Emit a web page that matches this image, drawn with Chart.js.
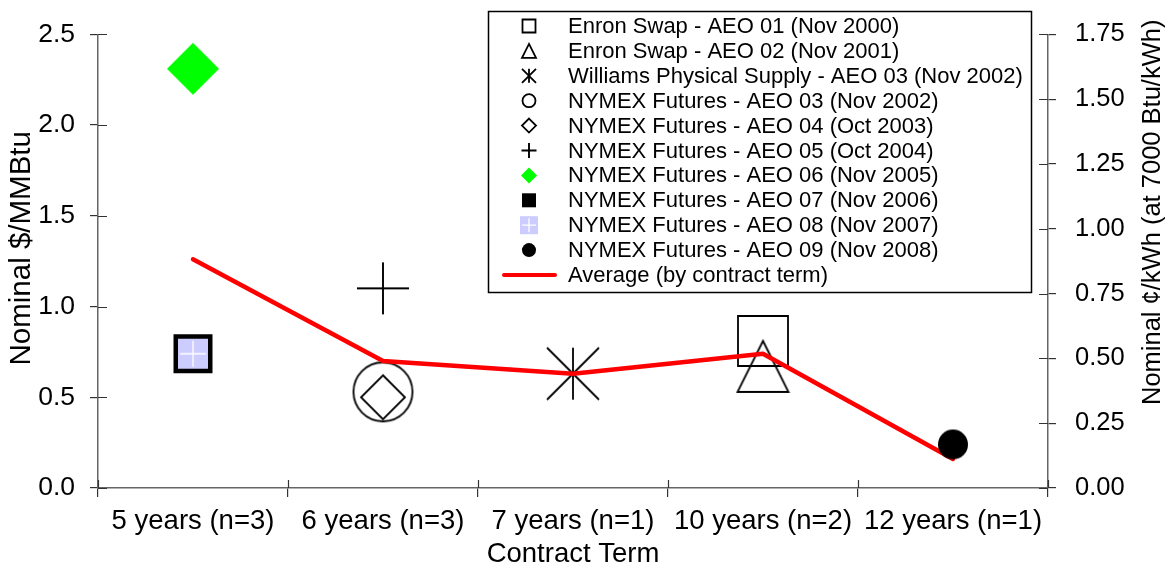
<!DOCTYPE html>
<html>
<head>
<meta charset="utf-8">
<script src="https://cdn.jsdelivr.net/npm/chart.js@4.4.1/dist/chart.umd.min.js"></script>
<style>
  html, body { margin: 0; padding: 0; background: #fff; }
  #wrap { width: 1172px; height: 567px; position: relative; }
</style>
</head>
<body>
<div id="wrap"><canvas id="chart"></canvas></div>
<script>
'use strict';

// ─── Data ────────────────────────────────────────────────────────────────────
const categories = ['5 years (n=3)', '6 years (n=3)', '7 years (n=1)', '10 years (n=2)', '12 years (n=1)'];

const enronAeo01    = [null, null, null, 0.81, null];
const enronAeo02    = [null, null, null, 0.67, null];
const williamsAeo03 = [null, null, 0.63, null, null];
const nymexAeo03    = [null, 0.53, null, null, null];
const nymexAeo04    = [null, 0.50, null, null, null];
const nymexAeo05    = [null, 1.10, null, null, null];
const nymexAeo06    = [2.31, null, null, null, null];
const nymexAeo07    = [0.74, null, null, null, null];
const nymexAeo08    = [0.74, null, null, null, null];
const nymexAeo09    = [null, null, null, null, 0.24];
const averageByTerm = [1.26, 0.70, 0.63, 0.74, 0.16];

const leftTicks  = [0, 0.5, 1.0, 1.5, 2.0, 2.5];
const rightTicks = [0, 0.25, 0.5, 0.75, 1.0, 1.25, 1.5, 1.75];

const seriesLabels = [
  'Enron Swap - AEO 01 (Nov 2000)',
  'Enron Swap - AEO 02 (Nov 2001)',
  'Williams Physical Supply - AEO 03 (Nov 2002)',
  'NYMEX Futures - AEO 03 (Nov 2002)',
  'NYMEX Futures - AEO 04 (Oct 2003)',
  'NYMEX Futures - AEO 05 (Oct 2004)',
  'NYMEX Futures - AEO 06 (Nov 2005)',
  'NYMEX Futures - AEO 07 (Nov 2006)',
  'NYMEX Futures - AEO 08 (Nov 2007)',
  'NYMEX Futures - AEO 09 (Nov 2008)',
];
const averageLabel = 'Average (by contract term)';
const seriesData = [enronAeo01, enronAeo02, williamsAeo03, nymexAeo03, nymexAeo04,
                    nymexAeo05, nymexAeo06, nymexAeo07, nymexAeo08, nymexAeo09];

// ─── Marker styles (kind, size on plot, size in legend) ─────────────────────
const markerStyles = [
  { kind: 'square',         size: 25,   legend: 6.5, order: 3 },
  { kind: 'triangle',       size: 25.5, legend: 7,   order: 3 },
  { kind: 'asterisk',       size: 26,   legend: 7,   order: 3 },
  { kind: 'circle',         size: 29.5, legend: 6.5, order: 3 },
  { kind: 'diamond',        size: 22,   legend: 7,   order: 3 },
  { kind: 'plus',           size: 26,   legend: 7.5, order: 3 },
  { kind: 'greenDiamond',   size: 26,   legend: 8,   order: 3 },
  { kind: 'blackSquare',    size: 19.5, legend: 7,   order: 3 },
  { kind: 'lavenderSquare', size: 15,   legend: 9,   order: 1 },
  { kind: 'dot',            size: 15,   legend: 7,   order: 0 },
];

const FONT = "'Liberation Sans', Arial, Helvetica, sans-serif";

function drawMarker(ctx, kind, s) {
  ctx.save();
  ctx.lineWidth = 1.8;
  ctx.strokeStyle = '#000';
  ctx.fillStyle = '#000';
  ctx.beginPath();
  switch (kind) {
    case 'square':
      ctx.rect(-s, -s, 2 * s, 2 * s); ctx.stroke(); break;
    case 'triangle':
      ctx.moveTo(0, -s); ctx.lineTo(s, s); ctx.lineTo(-s, s); ctx.closePath(); ctx.stroke(); break;
    case 'asterisk':
      ctx.moveTo(0, -s); ctx.lineTo(0, s);
      ctx.moveTo(-s, -s); ctx.lineTo(s, s);
      ctx.moveTo(s, -s); ctx.lineTo(-s, s);
      ctx.stroke(); break;
    case 'circle':
      ctx.arc(0, 0, s, 0, Math.PI * 2); ctx.stroke(); break;
    case 'diamond':
      ctx.moveTo(0, -s); ctx.lineTo(s, 0); ctx.lineTo(0, s); ctx.lineTo(-s, 0); ctx.closePath(); ctx.stroke(); break;
    case 'plus':
      ctx.lineWidth = 1.9;
      ctx.moveTo(0, -s); ctx.lineTo(0, s); ctx.moveTo(-s, 0); ctx.lineTo(s, 0); ctx.stroke(); break;
    case 'greenDiamond':
      ctx.fillStyle = '#00ff00';
      ctx.moveTo(0, -s); ctx.lineTo(s, 0); ctx.lineTo(0, s); ctx.lineTo(-s, 0); ctx.closePath(); ctx.fill(); break;
    case 'blackSquare':
      ctx.fillRect(-s, -s, 2 * s, 2 * s); break;
    case 'lavenderSquare':
      ctx.fillStyle = '#ccccff';
      ctx.fillRect(-s, -s, 2 * s, 2 * s);
      ctx.strokeStyle = '#fff';
      ctx.lineWidth = 1.3;
      ctx.moveTo(0, -s + 2); ctx.lineTo(0, s - 2);
      ctx.moveTo(-s + 2, 0); ctx.lineTo(s - 2, 0);
      ctx.stroke(); break;
    case 'dot':
      ctx.arc(0, 0, s, 0, Math.PI * 2); ctx.fill(); break;
  }
  ctx.restore();
}

function markerImage(kind, s) {
  const c = document.createElement('canvas');
  const n = Math.ceil(2 * s + 4);
  c.width = n; c.height = n;
  const ctx = c.getContext('2d');
  ctx.translate(n / 2, n / 2);
  drawMarker(ctx, kind, s);
  return c;
}

// ─── Plugins ─────────────────────────────────────────────────────────────────
// tick marks that cross the axis lines (the outer half comes from the grid)
const innerTicks = {
  id: 'innerTicks',
  afterDraw(chart) {
    const { ctx, chartArea: a, scales } = chart;
    ctx.save();
    ctx.strokeStyle = '#333';
    ctx.lineWidth = 1.2;
    ctx.beginPath();
    scales.y.ticks.forEach((t, i) => {
      const py = Math.round(scales.y.getPixelForTick(i)) + 0.5;
      ctx.moveTo(a.left, py); ctx.lineTo(a.left + 9, py);
    });
    scales.y1.ticks.forEach((t, i) => {
      const py = Math.round(scales.y1.getPixelForTick(i)) + 0.5;
      ctx.moveTo(a.right - 9, py); ctx.lineTo(a.right, py);
    });
    for (let i = 0; i <= categories.length; i++) {
      const px = Math.round(scales.x.getPixelForValue(i - 0.5)) + 0.5;
      ctx.moveTo(px, a.bottom - 8); ctx.lineTo(px, a.bottom);
    }
    ctx.stroke();
    ctx.restore();
  }
};

// rotated y-axis titles, both reading bottom to top
function sideTitle(ctx, text, x, y, size) {
  ctx.save();
  ctx.fillStyle = '#000';
  ctx.font = size + 'px ' + FONT;
  ctx.textAlign = 'center';
  ctx.textBaseline = 'middle';
  ctx.translate(x, y);
  ctx.rotate(-Math.PI / 2);
  ctx.fillText(text, 0, 0);
  ctx.restore();
}

const sideTitles = {
  id: 'sideTitles',
  afterDraw(chart) {
    const { ctx, chartArea: a } = chart;
    sideTitle(ctx, 'Nominal $/MMBtu', 22, a.top + 214, 29.5);
    sideTitle(ctx, 'Nominal \u00a2/kWh (at 7000 Btu/kWh)', 1153, a.top + 178, 25.5);
  }
};

// boxed legend in the upper right of the plot
const boxLegend = {
  id: 'boxLegend',
  afterDraw(chart) {
    const { ctx } = chart;
    const left = 488, top = 11, width = 543, height = 281;
    const rowH = 24.9, firstRow = 26, markX = 529, textX = 568;
    ctx.save();
    ctx.fillStyle = '#fff';
    ctx.fillRect(left, top, width, height);
    ctx.strokeStyle = '#000';
    ctx.lineWidth = 1.5;
    ctx.strokeRect(left + 0.5, top + 0.5, width, height);
    ctx.font = '22px ' + FONT;
    ctx.textBaseline = 'middle';
    ctx.fillStyle = '#000';
    seriesLabels.forEach((label, i) => {
      const y = firstRow + i * rowH;
      ctx.save();
      ctx.translate(markX, y);
      drawMarker(ctx, markerStyles[i].kind, markerStyles[i].legend);
      ctx.restore();
      ctx.fillText(label, textX, y + 1);
    });
    const yAvg = firstRow + seriesLabels.length * rowH;
    ctx.strokeStyle = '#ff0000';
    ctx.lineWidth = 4;
    ctx.lineCap = 'round';
    ctx.beginPath();
    ctx.moveTo(504, yAvg); ctx.lineTo(555, yAvg);
    ctx.stroke();
    ctx.fillText(averageLabel, textX, yAvg + 1);
    ctx.restore();
  }
};

// ─── Chart ───────────────────────────────────────────────────────────────────
Chart.defaults.font.family = FONT;
Chart.defaults.color = '#000';

const datasets = seriesData.map((data, i) => ({
  label: seriesLabels[i],
  data: data,
  showLine: false,
  pointStyle: markerImage(markerStyles[i].kind, markerStyles[i].size),
  pointRadius: 10,
  order: markerStyles[i].order,
  yAxisID: 'y',
}));

datasets.push({
  label: averageLabel,
  data: averageByTerm,
  borderColor: '#ff0000',
  borderWidth: 4.5,
  borderCapStyle: 'round',
  borderJoinStyle: 'round',
  pointRadius: 0,
  tension: 0,
  order: 2,
  yAxisID: 'y',
});

new Chart(document.getElementById('chart'), {
  type: 'line',
  data: { labels: categories, datasets },
  options: {
    responsive: true,
    maintainAspectRatio: false,
    animation: false,
    layout: { padding: { top: 28, left: 0, right: 0, bottom: 0 } },
    plugins: {
      legend: { display: false },
      tooltip: { enabled: false },
    },
    scales: {
      x: {
        offset: true,
        grid: { offset: true, drawOnChartArea: false, tickLength: 9, color: '#333', lineWidth: 1.2 },
        border: { display: true, color: '#666', width: 1.5 },
        ticks: { font: { size: 27.5 }, padding: 8, maxRotation: 0, autoSkip: false },
        title: { display: true, text: 'Contract Term', font: { size: 27.5 }, padding: { top: 0, bottom: -4 } },
        afterFit: s => { s.height = 79; },
      },
      y: {
        position: 'left',
        min: 0, max: 2.5,
        afterBuildTicks: s => { s.ticks = leftTicks.map(v => ({ value: v })); },
        grid: { drawOnChartArea: false, tickLength: 8, color: '#333', lineWidth: 1.2 },
        border: { display: true, color: '#666', width: 1.5 },
        ticks: { font: { size: 26.5 }, padding: 15, callback: v => Number(v).toFixed(1) },
        afterFit: s => { s.width = 98; },
      },
      y1: {
        position: 'right',
        min: 0, max: 1.75,
        afterBuildTicks: s => { s.ticks = rightTicks.map(v => ({ value: v })); },
        grid: { drawOnChartArea: false, tickLength: 8, color: '#333', lineWidth: 1.2 },
        border: { display: true, color: '#666', width: 1.5 },
        ticks: { font: { size: 25.5 }, padding: 19, callback: v => Number(v).toFixed(2) },
        afterFit: s => { s.width = 124; },
      },
    },
  },
  plugins: [innerTicks, sideTitles, boxLegend],
});
</script>
</body>
</html>
